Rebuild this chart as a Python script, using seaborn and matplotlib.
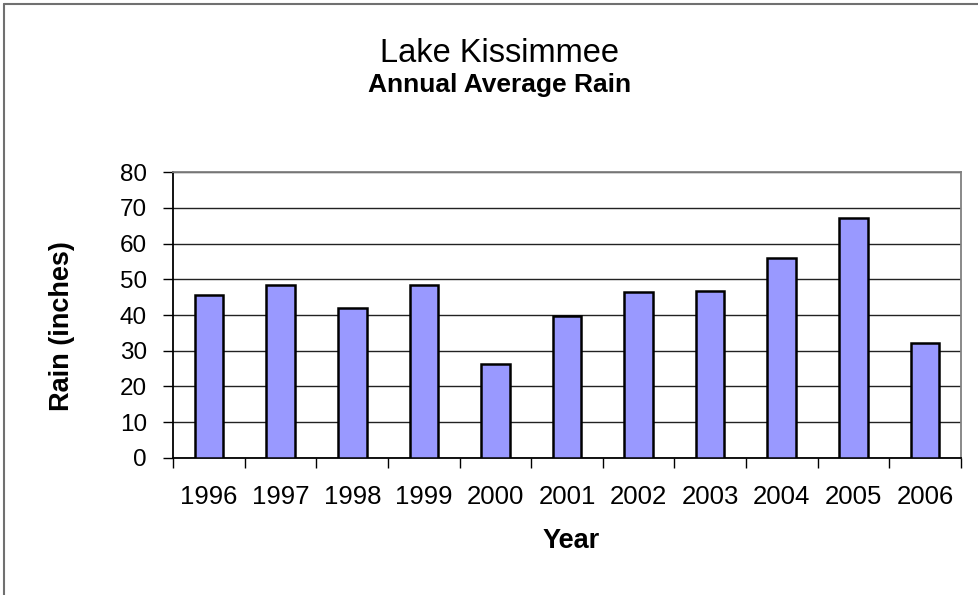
import numpy as np
import pandas as pd
import matplotlib
matplotlib.use("Agg")
import matplotlib.pyplot as plt
import seaborn as sns
from matplotlib.lines import Line2D

# data
years = ["1996", "1997", "1998", "1999", "2000", "2001", "2002", "2003", "2004", "2005", "2006"]
rain = [45.6, 48.5, 42.1, 48.5, 26.3, 39.8, 46.4, 46.7, 56.1, 67.2, 32.1]
y_ticks = [0, 10, 20, 30, 40, 50, 60, 70, 80]

sns.set_theme(style="white")
plt.rcParams["font.family"] = ["Liberation Sans", "DejaVu Sans"]
plt.rcParams["text.color"] = "black"
plt.rcParams["xtick.color"] = "black"
plt.rcParams["ytick.color"] = "black"

W, H = 979, 595
fig = plt.figure(figsize=(W / 100, H / 100), dpi=100)
ax = fig.add_axes([173.3 / W, 1 - 457.7 / H, (960.7 - 173.3) / W, (457.7 - 172.3) / H])

df = pd.DataFrame({"Year": years, "Rain": rain})
sns.barplot(data=df, x="Year", y="Rain", color="#9999FF", saturation=1,
            width=0.4, edgecolor="black", linewidth=1.8, ax=ax, zorder=3)

# y axis + gridlines
ax.set_ylim(0, 80)
ax.set_yticks(y_ticks)
ax.yaxis.grid(True, color="#222222", linewidth=1)
ax.set_axisbelow(True)
ax.tick_params(axis="y", direction="out", length=7, width=1, left=True,
               pad=12, labelsize=17.5)

# x axis: labels at bar centres, tick marks between categories
ax.set_xlim(-0.5, len(years) - 0.5)
ax.set_xticks(np.arange(-0.5, len(years)), minor=True)
ax.tick_params(axis="x", which="major", length=0, pad=20, labelsize=18.5)
ax.tick_params(axis="x", which="minor", direction="out", length=7, width=1, bottom=True)

for side in ["left", "bottom"]:
    ax.spines[side].set_color("black")
    ax.spines[side].set_linewidth(1.3)
for side in ["top", "right"]:
    ax.spines[side].set_color("#808080")
    ax.spines[side].set_linewidth(1.3)

ax.set_xlabel("")
ax.set_ylabel("")

# titles and axis labels
fig.text(500 / W, 1 - 62 / H, "Lake Kissimmee", ha="center", va="baseline", fontsize=23.5)
fig.text(500 / W, 1 - 92 / H, "Annual Average Rain", ha="center", va="baseline",
         fontsize=19, fontweight="bold")
fig.text(62 / W, 1 - 326 / H, "Rain (inches)", rotation=90, ha="center", va="center",
         fontsize=19.5, fontweight="bold")
fig.text(571 / W, 1 - 541 / H, "Year", ha="center", va="center",
         fontsize=19.5, fontweight="bold")

# chart frame (cropped on right and bottom)
fig.add_artist(Line2D([4.5 / W, 4.5 / W], [0, 1 - 3.5 / H], transform=fig.transFigure,
                      color="#707070", linewidth=1.5))
fig.add_artist(Line2D([4.5 / W, 1], [1 - 3.5 / H, 1 - 3.5 / H], transform=fig.transFigure,
                      color="#707070", linewidth=1.5))

fig.savefig("out.png", dpi=100)
